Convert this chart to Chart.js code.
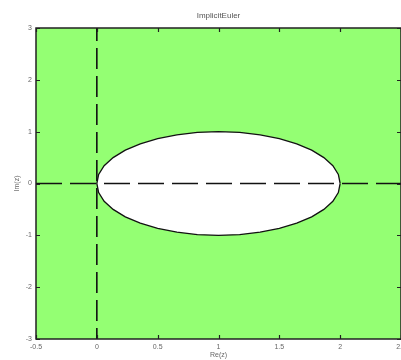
<!DOCTYPE html>
<html><head><meta charset="utf-8">
<script src="https://cdn.jsdelivr.net/npm/chart.js@4/dist/chart.umd.min.js"></script>
<style>html,body{margin:0;padding:0;background:#fff;overflow:hidden}#wrap{width:401px;height:360px}</style>
</head><body><div id="wrap"><canvas id="c" width="401" height="360"></canvas></div>
<script>
const titleText = 'ImplicitEuler';
const xTitle = 'Re(z)';
const yTitle = 'Im(z)';
const xTicks = [-0.5, 0, 0.5, 1, 1.5, 2, 2.5];
const yTicks = [-3, -2, -1, 0, 1, 2, 3];
// stability boundary |1 - z| = 1
const boundaryRe = [2, 1.985, 1.940, 1.866, 1.766, 1.643, 1.5, 1.342, 1.174, 1, 0.826, 0.658, 0.5, 0.357, 0.234, 0.134, 0.060, 0.015, 0,
  0.015, 0.060, 0.134, 0.234, 0.357, 0.5, 0.658, 0.826, 1, 1.174, 1.342, 1.5, 1.643, 1.766, 1.866, 1.940, 1.985, 2];
const boundaryIm = [0, 0.174, 0.342, 0.5, 0.643, 0.766, 0.866, 0.940, 0.985, 1, 0.985, 0.940, 0.866, 0.766, 0.643, 0.5, 0.342, 0.174, 0,
  -0.174, -0.342, -0.5, -0.643, -0.766, -0.866, -0.940, -0.985, -1, -0.985, -0.940, -0.866, -0.766, -0.643, -0.5, -0.342, -0.174, 0];
const realAxisRe = [-0.5, 2.5];
const realAxisIm = [0, 0];
const imagAxisRe = [0, 0];
const imagAxisIm = [3, -3];

const FONT = "'Liberation Sans', Arial, sans-serif";
const GREEN = 'rgb(148,255,115)';
const zip = (a, b) => a.map((v, i) => ({x: v, y: b[i]}));

const framePlugin = {
  id: 'frame',
  beforeDatasetsDraw(chart) {
    const {ctx, chartArea: a} = chart;
    ctx.save();
    ctx.fillStyle = GREEN;
    ctx.fillRect(a.left, a.top, a.right - a.left, a.bottom - a.top);
    ctx.restore();
  },
  afterDatasetsDraw(chart) {
    const {ctx, chartArea: a, scales} = chart;
    ctx.save();
    ctx.strokeStyle = '#222';
    ctx.lineWidth = 1.5;
    ctx.strokeRect(a.left, a.top, a.right - a.left, a.bottom - a.top);
    ctx.lineWidth = 1.2;
    ctx.beginPath();
    const L = 4;
    xTicks.forEach(v => {
      const p = Math.round(scales.x.getPixelForValue(v)) + 0.5;
      ctx.moveTo(p, a.bottom); ctx.lineTo(p, a.bottom - L);
      ctx.moveTo(p, a.top); ctx.lineTo(p, a.top + L);
    });
    yTicks.forEach(v => {
      const p = Math.round(scales.y.getPixelForValue(v)) + 0.5;
      ctx.moveTo(a.left, p); ctx.lineTo(a.left + L, p);
      ctx.moveTo(a.right, p); ctx.lineTo(a.right - L, p);
    });
    ctx.stroke();
    ctx.restore();
  }
};

new Chart(document.getElementById('c'), {
  type: 'scatter',
  data: {
    datasets: [
      {data: zip(boundaryRe, boundaryIm), showLine: true, fill: 'shape', backgroundColor: '#ffffff',
       borderColor: '#111', borderWidth: 1.3, pointRadius: 0, tension: 0, order: 3},
      {data: zip(realAxisRe, realAxisIm), showLine: true, borderColor: '#111', borderWidth: 1.6,
       borderDash: [26, 8], pointRadius: 0, order: 1},
      {data: zip(imagAxisRe, imagAxisIm), showLine: true, borderColor: '#111', borderWidth: 1.6,
       borderDash: [21, 7], borderDashOffset: 8, pointRadius: 0, order: 1}
    ]
  },
  plugins: [framePlugin],
  options: {
    responsive: false,
    animation: false,
    devicePixelRatio: 1,
    layout: {padding: 0},
    plugins: {
      legend: {display: false},
      tooltip: {enabled: false},
      title: {display: true, text: titleText, fullSize: false, color: '#555',
              font: {family: FONT, size: 8, weight: 'normal'}, padding: {top: 11.2, bottom: 7.2}}
    },
    scales: {
      x: {
        type: 'linear', min: -0.5, max: 2.5,
        grid: {display: false, drawTicks: false}, border: {display: false},
        afterBuildTicks: s => { s.ticks = xTicks.map(v => ({value: v})); },
        ticks: {color: '#666', font: {family: FONT, size: 7}, padding: 4, maxRotation: 0, autoSkip: false,
                callback: v => String(v)},
        title: {display: true, text: xTitle, color: '#666', font: {family: FONT, size: 7}, padding: {top: 0, bottom: 1}},
        afterFit: s => { s.height = 21; s.paddingLeft = 0; s.paddingRight = 0; }
      },
      y: {
        type: 'linear', min: -3, max: 3,
        grid: {display: false, drawTicks: false}, border: {display: false},
        afterBuildTicks: s => { s.ticks = yTicks.map(v => ({value: v})); },
        ticks: {color: '#666', font: {family: FONT, size: 7}, padding: 4, autoSkip: false,
                callback: v => String(v)},
        title: {display: true, text: yTitle, color: '#666', font: {family: FONT, size: 7}, padding: {top: 13.3, bottom: 0}},
        afterFit: s => { s.width = 36; s.paddingTop = 0; s.paddingBottom = 0; }
      }
    }
  }
});
</script></body></html>
